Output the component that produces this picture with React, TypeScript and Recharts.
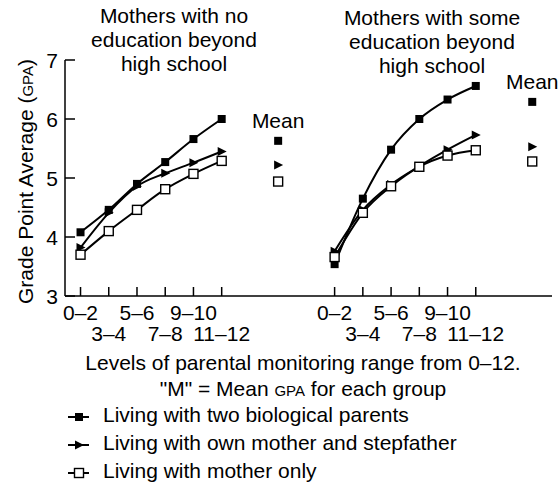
import React from "react";
import { ComposedChart, Line, Scatter, XAxis, YAxis } from "recharts";

// monitoring levels (x categories) and panel titles
const LEVELS = ["0–2", "3–4", "5–6", "7–8", "9–10", "11–12"];
const TITLE_NO_EDU = ["Mothers with no", "education beyond", "high school"];
const TITLE_SOME_EDU = ["Mothers with some", "education beyond", "high school"];
const GROUPS = [
  "Living with two biological parents",
  "Living with own mother and stepfather",
  "Living with mother only",
];

// GPA by level, mothers with no education beyond high school
const noEduBio = [4.08, 4.46, 4.9, 5.27, 5.66, 6.0];
const noEduStep = [3.82, 4.41, 4.86, 5.08, 5.26, 5.45];
const noEduMom = [3.7, 4.1, 4.46, 4.81, 5.07, 5.29];
const noEduMeans = [5.63, 5.22, 4.94];

// GPA by level, mothers with some education beyond high school
const someEduBio = [3.54, 4.65, 5.48, 6.0, 6.33, 6.56];
const someEduStep = [3.76, 4.46, 4.89, 5.2, 5.48, 5.73];
const someEduMom = [3.66, 4.41, 4.86, 5.19, 5.38, 5.47];
const someEduMeans = [6.29, 5.53, 5.28];

const Y_TICKS = [3, 4, 5, 6, 7];

// where each panel starts on the shared x axis, mean column sits 2 steps after the last level
const PANEL_START = [1, 10];
const MEAN_GAP = 7;

const FONT = '"Liberation Sans", Arial, Helvetica, sans-serif';
const KEYS = ["bio", "step", "mom"] as const;
type Kind = (typeof KEYS)[number];

const panelRows = (start: number, bio: number[], step: number[], mom: number[]) =>
  LEVELS.map((level, i) => ({ x: start + i, level, bio: bio[i], step: step[i], mom: mom[i] }));

const leftRows = panelRows(PANEL_START[0], noEduBio, noEduStep, noEduMom);
const rightRows = panelRows(PANEL_START[1], someEduBio, someEduStep, someEduMom);

const meanRows = [noEduMeans, someEduMeans].map((m, p) => ({
  x: PANEL_START[p] + MEAN_GAP,
  bio: m[0],
  step: m[1],
  mom: m[2],
  label: "Mean",
}));

const xTicks = [...leftRows, ...rightRows].map((r) => r.x);
const levelAt = (v: number) => [...leftRows, ...rightRows].find((r) => r.x === v)?.level ?? "";

function Marker({ kind, cx, cy }: { kind: Kind; cx: number; cy: number }) {
  if (kind === "bio") {
    return <rect x={cx - 4} y={cy - 4} width={8} height={8} fill="#000" />;
  }
  if (kind === "step") {
    return (
      <polygon
        points={`${cx - 4},${cy - 4.5} ${cx + 5},${cy} ${cx - 4},${cy + 4.5}`}
        fill="#000"
      />
    );
  }
  return (
    <rect x={cx - 4.5} y={cy - 4.5} width={9} height={9} fill="#fff" stroke="#000" strokeWidth={1.4} />
  );
}

const makeDot = (kind: Kind) => (props: any) => {
  const { cx, cy, index } = props;
  if (cx == null || cy == null) return <g key={index} />;
  return (
    <g key={`${kind}-${index}`}>
      <Marker kind={kind} cx={cx} cy={cy} />
    </g>
  );
};

const makeMeanShape = (kind: Kind) => (props: any) => {
  const { cx, cy, payload } = props;
  return (
    <g>
      <Marker kind={kind} cx={cx} cy={cy} />
      {kind === "bio" && payload?.label ? (
        <text x={cx} y={cy - 13} textAnchor="middle" fontSize={21} fontFamily={FONT} fill="#000">
          {payload.label}
        </text>
      ) : null}
    </g>
  );
};

function XTick(props: any) {
  const { x, y, payload, index } = props;
  const row = index % 2;
  return (
    <g>
      <line x1={x} x2={x} y1={y} y2={y - 9} stroke="#000" strokeWidth={1.5} />
      <text
        x={x}
        y={y + (row === 0 ? 24 : 44.7)}
        textAnchor="middle"
        fontSize={21}
        fontFamily={FONT}
        fill="#000"
      >
        {levelAt(payload.value)}
      </text>
    </g>
  );
}

function YTick(props: any) {
  const { x, y, payload } = props;
  return (
    <g>
      <line x1={x} x2={x + 10} y1={y} y2={y} stroke="#000" strokeWidth={1.5} />
      <text x={x - 7} y={y + 7.5} textAnchor="end" fontSize={21} fontFamily={FONT} fill="#000">
        {payload.value}
      </text>
    </g>
  );
}

function YLabel() {
  return (
    <text
      x={33}
      y={181.5}
      transform="rotate(-90, 33, 181.5)"
      textAnchor="middle"
      fontSize={21}
      fontFamily={FONT}
      fill="#000"
    >
      Grade Point Average (<tspan fontSize={15}>GPA</tspan>)
    </text>
  );
}

function LegendIcon({ kind }: { kind: Kind }) {
  return (
    <svg width={22} height={12} style={{ position: "absolute", left: 68, top: -0.5 }}>
      <line x1={0} x2={21} y1={6} y2={6} stroke="#000" strokeWidth={2} />
      <Marker kind={kind} cx={11} cy={6} />
    </svg>
  );
}

function Title({ lines, center, top }: { lines: string[]; center: number; top: number }) {
  return (
    <div
      style={{
        position: "absolute",
        left: center - 120,
        top,
        width: 240,
        textAlign: "center",
        fontSize: 21,
        lineHeight: "24px",
      }}
    >
      {lines.map((l) => (
        <div key={l}>{l}</div>
      ))}
    </div>
  );
}

export default function App() {
  const lineProps = { type: "monotone" as const, stroke: "#000", strokeWidth: 2, isAnimationActive: false };
  return (
    <div
      style={{
        position: "absolute",
        left: 0,
        top: 0,
        width: 559,
        height: 486,
        background: "#fff",
        fontFamily: FONT,
        color: "#000",
      }}
    >
      <ComposedChart width={559} height={486} margin={{ top: 60, right: 7, left: 5, bottom: 130 }}>
        <XAxis
          type="number"
          dataKey="x"
          domain={[0.45, 17.7]}
          ticks={xTicks}
          interval={0}
          height={60}
          tickSize={0}
          tickMargin={0}
          tickLine={false}
          tick={<XTick />}
          axisLine={{ stroke: "#000", strokeWidth: 1.5 }}
        />
        <YAxis
          type="number"
          domain={[3, 7]}
          ticks={Y_TICKS}
          interval={0}
          width={60}
          tickSize={0}
          tickMargin={0}
          tickLine={false}
          tick={<YTick />}
          axisLine={{ stroke: "#000", strokeWidth: 1.5 }}
          label={<YLabel />}
        />
        {[leftRows, rightRows].map((rows, p) =>
          KEYS.map((k) => (
            <Line
              key={`${p}-${k}`}
              data={rows}
              dataKey={k}
              {...lineProps}
              dot={makeDot(k)}
              activeDot={false}
            />
          ))
        )}
        {KEYS.map((k) => (
          <Scatter
            key={`mean-${k}`}
            data={meanRows}
            dataKey={k}
            isAnimationActive={false}
            shape={makeMeanShape(k)}
          />
        ))}
      </ComposedChart>

      <Title lines={TITLE_NO_EDU} center={174} top={3.5} />
      <Title lines={TITLE_SOME_EDU} center={432} top={5.5} />

      <div
        style={{
          position: "absolute",
          left: 0,
          top: 350.4,
          width: 606,
          textAlign: "center",
          fontSize: 21,
          lineHeight: "26px",
        }}
      >
        <div>Levels of parental monitoring range from 0–12.</div>
        <div>
          "M" = Mean <span style={{ fontSize: 15 }}>GPA</span> for each group
        </div>
      </div>

      <div style={{ position: "absolute", left: 0, top: 401.4, width: 559, fontSize: 21, lineHeight: "28px" }}>
        {GROUPS.map((g, i) => (
          <div key={g} style={{ position: "relative", paddingLeft: 103, height: 28 }}>
            <div style={{ position: "absolute", left: 0, top: 10 }}>
              <LegendIcon kind={KEYS[i]} />
            </div>
            {g}
          </div>
        ))}
      </div>
    </div>
  );
}
